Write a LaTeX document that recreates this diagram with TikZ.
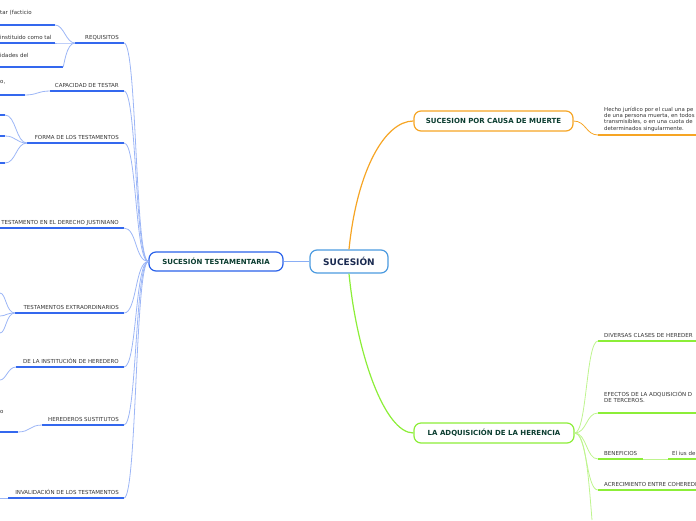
\documentclass[tikz,border=0pt]{standalone}
\usepackage{fontspec}
\setmainfont{DejaVu Sans}
\definecolor{blueU}{HTML}{3468EE}
\definecolor{blueT}{HTML}{9CB6F6}
\definecolor{blueL}{HTML}{8AAEF5}
\definecolor{blueN}{HTML}{2A62EA}
\definecolor{blueC}{HTML}{4C9BE0}
\definecolor{orangeU}{HTML}{F6A524}
\definecolor{greenU}{HTML}{8CEE38}
\definecolor{greenT}{HTML}{BEF48E}
\definecolor{nodetext}{HTML}{0B3D30}
\definecolor{navy}{HTML}{1A2A50}
\definecolor{leaftext}{HTML}{333333}
\begin{document}
\begin{tikzpicture}[x=1pt,y=-1pt,
  lf/.style={font=\fontsize{5.5}{6.2}\selectfont, text=leaftext, inner sep=0pt, align=left},
  lfr/.style={lf, anchor=base east},
  lfl/.style={lf, anchor=base west},
  bthick/.style={draw=blueU, line width=1.8pt},
  bthin/.style={draw=blueT, line width=0.8pt},
  gthick/.style={draw=greenU, line width=1.8pt},
  gthin/.style={draw=greenT, line width=0.8pt},
  mainbox/.style={rounded corners=7pt, fill=white, line width=1.2pt, inner sep=0pt,
    font=\fontsize{7}{8}\selectfont\bfseries, text=nodetext}
]
\useasboundingbox (0,0) rectangle (696,520);

% ---------- main nodes ----------
\node[mainbox, draw=blueC, minimum width=78pt, minimum height=23pt, text=navy,
  font=\fontsize{9}{10}\selectfont\bfseries] (suc) at (349,261.5) {SUCESIÓN};
\node[mainbox, draw=blueN, minimum width=134pt, minimum height=19pt] (test) at (216,261.5) {SUCESIÓN TESTAMENTARIA};
\node[mainbox, draw=orangeU, minimum width=159pt, minimum height=20pt] (muerte) at (493.5,121) {SUCESION POR CAUSA DE MUERTE};
\node[mainbox, draw=greenU, minimum width=160pt, minimum height=20pt] (adq) at (494,433) {LA ADQUISICIÓN DE LA HERENCIA};

% central connectors
\draw[draw=blueL, line width=1.4pt] (suc.west) -- (test.east);
\draw[draw=orangeU, line width=1.2pt] (suc.north) .. controls (357,170) and (385,121) .. (muerte.west);
\draw[draw=greenU, line width=1.2pt] (suc.south) .. controls (357,355) and (385,433) .. (adq.west);

% ---------- left branches ----------
\foreach \n/\y/\x in {req/43/75, cap/91/50, forma/143/27, just/228/0, extra/313/15, inst/367/16, sust/425/42, inval/498/8}{
  \coordinate (\n E) at (124,\y);
  \coordinate (\n W) at (\x,\y);
  \draw[bthick] (\n W) -- (\n E);
  \draw[bthin] (test.west) .. controls (135,261.5) and (137,\y) .. (\n E);
}
\node[lfr] (treq) at (119,39) {REQUISITOS};
\node[lfr] (tcap) at (119,87) {CAPACIDAD DE TESTAR};
\node[lfr] (tforma) at (119,139) {FORMA DE LOS TESTAMENTOS};
\node[lfr] (tjust) at (119,224) {TESTAMENTO EN EL DERECHO JUSTINIANO};
\node[lfr] (textra) at (119,309) {TESTAMENTOS EXTRAORDINARIOS};
\node[lfr] (tinst) at (119,363) {DE LA INSTITUCIÓN DE HEREDERO};
\node[lfr] (tsust) at (119,421) {HEREDEROS SUSTITUTOS};
\node[lfr] (tinval) at (119,494) {INVALIDACIÓN DE LOS TESTAMENTOS};

% REQUISITOS leaves
\foreach \n/\y/\x in {r1/25/55, r2/43/55, r3/67/63}{
  \coordinate (\n E) at (\x,\y);
  \coordinate (\n W) at (0,\y);
  \draw[bthick] (\n W) -- (\n E);
  \draw[bthin] (reqW) .. controls (66,43) and (64,\y) .. (\n E);
}
\node[lfl] (tr1) at (0,14) {tar (facticio};
\node[lfl] (tr2) at (0,39) {instituido como tal};
\node[lfl] (tr3) at (0,57) {idades del};

% CAPACIDAD leaf
\coordinate (c1E) at (25,95);
\coordinate (c1W) at (0,95);
\draw[bthick] (c1W) -- (c1E);
\draw[bthin] (capW) .. controls (38,91) and (37,95) .. (c1E);
\node[lfl] (tc1) at (0,83) {o,};

% FORMA leaves
\foreach \n/\y in {f1/115, f2/136, f3/163}{
  \coordinate (\n E) at (5,\y);
  \coordinate (\n W) at (0,\y);
  \draw[bthick] (\n W) -- (\n E);
  \draw[bthin] (formaW) .. controls (16,143) and (16,\y) .. (\n E);
}

% EXTRAORDINARIOS leaves
\foreach \n/\y in {e1/293, e2/316, e3/333}{
  \coordinate (\n E) at (0,\y);
  \draw[bthin] (extraW) .. controls (6,313) and (6,\y) .. (\n E);
}

% INSTITUCION leaf
\coordinate (i1E) at (0,380);
\draw[bthin] (instW) .. controls (8,367) and (6,380) .. (i1E);

% SUSTITUTOS leaf
\coordinate (s1E) at (18,432);
\coordinate (s1W) at (0,432);
\draw[bthick] (s1W) -- (s1E);
\draw[bthin] (sustW) .. controls (30,425) and (30,432) .. (s1E);
\node[lfl] (ts1) at (0,413) {o};

% INVALIDACION leaf
\coordinate (v1E) at (0,498);
\draw[bthin] (invalW) -- (v1E);

% ---------- orange leaf ----------
\coordinate (oW) at (598,135);
\coordinate (oE) at (696,135);
\draw[draw=orangeU, line width=1.8pt] (oW) -- (oE);
\draw[draw=orangeU, line width=0.8pt] (muerte.east) .. controls (586,121) and (586,135) .. (oW);
\node[lf, anchor=north west, font=\fontsize{5.4}{6.2}\selectfont] (ot) at (604,107) {Hecho jurídico por el cual una pe\\de una persona muerta, en todos\\transmisibles, o en una cuota de\\determinados singularmente.};

% ---------- green leaves ----------
\foreach \n/\y in {g1/341, g2/413, g4/490}{
  \coordinate (\n W) at (598,\y);
  \coordinate (\n E) at (696,\y);
  \draw[gthick] (\n W) -- (\n E);
  \draw[gthin] (adq.east) .. controls (587,433) and (586,\y) .. (\n W);
}
\coordinate (g3W) at (598,459);
\coordinate (g3E) at (643,459);
\coordinate (g5W) at (668,459);
\coordinate (g5E) at (696,459);
\draw[gthick] (g3W) -- (g3E);
\draw[gthick] (g5W) -- (g5E);
\draw[gthin] (g3E) -- (g5W);
\draw[gthin] (adq.east) .. controls (587,433) and (586,459) .. (g3W);
\coordinate (gbot) at (592,520);
\draw[gthin] (adq.east) .. controls (585,433) and (588,470) .. (gbot);

\node[lfl] (tg1) at (604,337) {DIVERSAS CLASES DE HEREDER};
\node[lfl] (tg2) at (604,402.5) {EFECTOS DE LA ADQUISICIÓN D\\DE TERCEROS.};
\node[lfl] (tg3) at (604,455) {BENEFICIOS};
\node[lfl] (tg5) at (672,455) {El ius de};
\node[lfl] (tg4) at (604,486) {ACRECIMIENTO ENTRE COHEREDI};
\end{tikzpicture}
\end{document}
